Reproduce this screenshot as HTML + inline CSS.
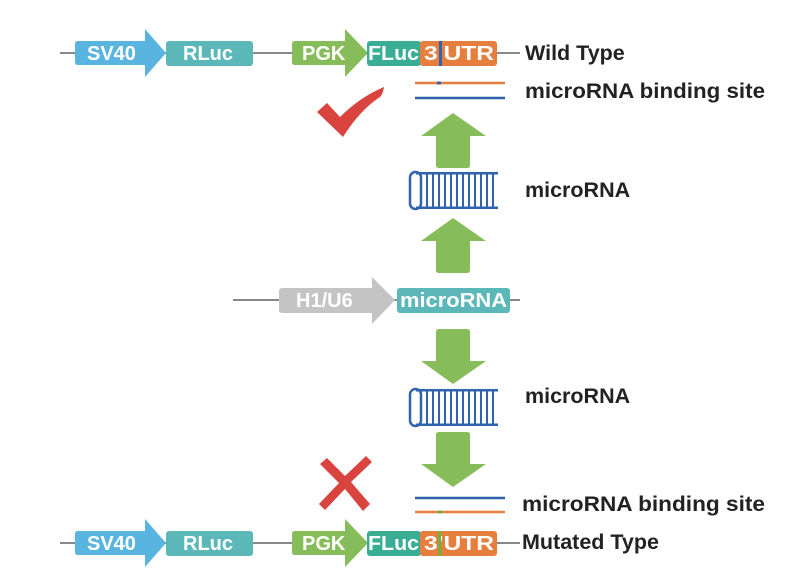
<!DOCTYPE html>
<html><head><style>
html,body{margin:0;padding:0;background:#fff;}
svg{display:block;}
text{font-family:"Liberation Sans",sans-serif;font-weight:bold;}
.w{fill:#fff;font-size:20px;}
.k{fill:#222;font-size:21.5px;}
</style></head><body>
<svg width="795" height="573" viewBox="0 0 795 573" xmlns="http://www.w3.org/2000/svg">
<defs>
<g id="row">
  <line x1="60" y1="0" x2="520" y2="0" stroke="#888" stroke-width="2"/>
  <path d="M78,-12 H145 V-24 L166,0 L145,24 V12 H78 Q75,12 75,9 V-9 Q75,-12 78,-12Z" fill="#5ab4e0"/>
  <rect x="166" y="-12" width="87" height="25" rx="3" fill="#5cb8b8"/>
  <path d="M295,-12 H345 V-24 L368,0 L345,24 V12 H295 Q292,12 292,9 V-9 Q292,-12 295,-12Z" fill="#87bc5a"/>
  <rect x="367" y="-12" width="54" height="25" rx="3" fill="#3aad95"/>
  <rect x="420" y="-12" width="77" height="25" rx="3" fill="#e67e3e"/>
  <text class="w" x="87" y="7">SV40</text>
  <text class="w" x="183" y="7">RLuc</text>
  <text class="w" x="302" y="7">PGK</text>
  <text class="w" x="368" y="7" textLength="51" lengthAdjust="spacingAndGlyphs">FLuc</text>
  <text class="w" x="424" y="7" textLength="70" lengthAdjust="spacingAndGlyphs">3'UTR</text>
</g>
<g id="sl">
  <rect x="410" y="0" width="11" height="37" rx="5.5" fill="none" stroke="#2f63ad" stroke-width="2.5"/>
  <line x1="416" y1="1.2" x2="498" y2="1.2" stroke="#2f63ad" stroke-width="2.5"/>
  <line x1="416" y1="35.8" x2="498" y2="35.8" stroke="#2f63ad" stroke-width="2.5"/>
  <path d="M427,1V36M433,1V36M439,1V36M445,1V36M451,1V36M457,1V36M463,1V36M469,1V36M475,1V36M481,1V36M487,1V36M493,1V36" stroke="#2f63ad" stroke-width="2"/>
</g>
<path id="up" d="M453,0 L486,23 H470 V52 Q470,55 467,55 H439 Q436,55 436,52 V23 H421 Z" fill="#87bc5a"/>
</defs>

<use href="#row" y="53"/>
<rect x="439" y="41" width="3" height="25" fill="#2f63ad"/>
<text class="k" x="525" y="60">Wild Type</text>
<line x1="415" y1="83" x2="505" y2="83" stroke="#e67e3e" stroke-width="2.5"/>
<rect x="437" y="81.5" width="4" height="3" fill="#2f63ad"/>
<line x1="415" y1="98" x2="505" y2="98" stroke="#2f63ad" stroke-width="2.5"/>
<text class="k" x="525" y="98" textLength="240" lengthAdjust="spacingAndGlyphs">microRNA binding site</text>
<path d="M317,112 L327,103 L340,117 Q360,97 384,87 Q383,94 380,97 Q360,110 343,137 Z" fill="#d9443f"/>

<use href="#up" y="113"/>
<use href="#sl" y="172"/>
<text class="k" x="525" y="197">microRNA</text>
<use href="#up" y="218"/>

<line x1="233" y1="300" x2="520" y2="300" stroke="#888" stroke-width="2"/>
<path d="M283,288 H372 V277 L395,300 L372,324 V313 H283 Q279,313 279,310 V291 Q279,288 283,288Z" fill="#c4c4c4"/>
<rect x="397" y="288" width="113" height="25" rx="3" fill="#5cb8b8"/>
<text class="w" x="296" y="307">H1/U6</text>
<text class="w" x="400" y="307" textLength="107" lengthAdjust="spacingAndGlyphs">microRNA</text>

<use href="#up" transform="translate(0,712) scale(1,-1)" y="328"/>
<use href="#sl" y="389"/>
<text class="k" x="525" y="403">microRNA</text>
<use href="#up" transform="translate(0,920) scale(1,-1)" y="433"/>

<path d="M320,464 L327,458 L345,476 L366,456 L372,462 L351,482 L370,504 L363,511 L345,489 L325,510 L319,504 L339,483 Z" fill="#d9443f"/>
<line x1="415" y1="498" x2="505" y2="498" stroke="#2f63ad" stroke-width="2.5"/>
<line x1="415" y1="512" x2="505" y2="512" stroke="#e67e3e" stroke-width="2.5"/>
<rect x="438" y="510.5" width="4" height="3" fill="#6db33f"/>
<text class="k" x="522" y="511" textLength="243" lengthAdjust="spacingAndGlyphs">microRNA binding site</text>

<use href="#row" y="543"/>
<rect x="438" y="531" width="3" height="25" fill="#6db33f"/>
<text class="k" x="522" y="549">Mutated Type</text>
</svg>
</body></html>
